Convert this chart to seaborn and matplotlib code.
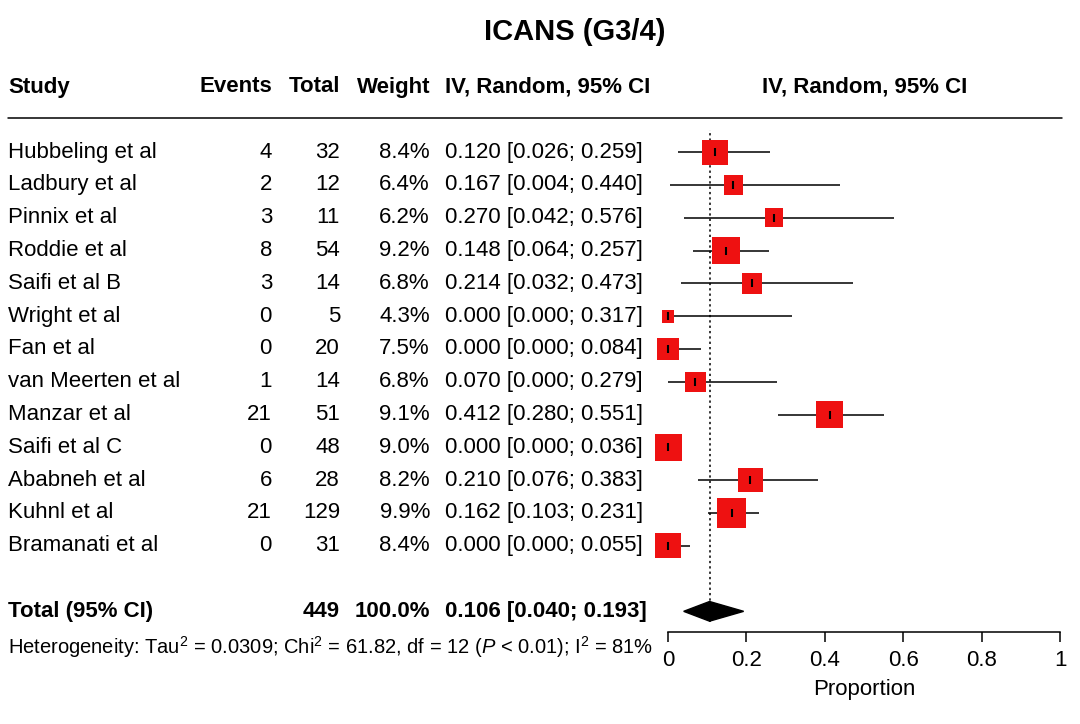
import matplotlib
matplotlib.use("Agg")
import matplotlib.pyplot as plt
import matplotlib.transforms as mtransforms
from matplotlib.patches import Polygon
import seaborn as sns
import pandas as pd

studies = ["Hubbeling et al", "Ladbury et al", "Pinnix et al", "Roddie et al", "Saifi et al B",
           "Wright et al", "Fan et al", "van Meerten et al", "Manzar et al", "Saifi et al C",
           "Ababneh et al", "Kuhnl et al", "Bramanati et al"]
events = [4, 2, 3, 8, 3, 0, 0, 1, 21, 0, 6, 21, 0]
totals = [32, 12, 11, 54, 14, 5, 20, 14, 51, 48, 28, 129, 31]
weights = [8.4, 6.4, 6.2, 9.2, 6.8, 4.3, 7.5, 6.8, 9.1, 9.0, 8.2, 9.9, 8.4]
est = [0.120, 0.167, 0.270, 0.148, 0.214, 0.000, 0.000, 0.070, 0.412, 0.000, 0.210, 0.162, 0.000]
lo = [0.026, 0.004, 0.042, 0.064, 0.032, 0.000, 0.000, 0.000, 0.280, 0.000, 0.076, 0.103, 0.000]
hi = [0.259, 0.440, 0.576, 0.257, 0.473, 0.317, 0.084, 0.279, 0.551, 0.036, 0.383, 0.231, 0.055]
pooled = (0.106, 0.040, 0.193)
total_n = 449

sns.set_style("white")
plt.rcParams['font.family'] = ['Liberation Sans', 'DejaVu Sans']
plt.rcParams['mathtext.fontset'] = 'custom'
plt.rcParams['mathtext.rm'] = 'Liberation Sans'
plt.rcParams['mathtext.it'] = 'Liberation Sans:italic'
plt.rcParams['text.color'] = 'black'
plt.rcParams['xtick.color'] = 'black'
plt.rcParams['axes.labelcolor'] = 'black'
plt.rcParams['axes.edgecolor'] = 'black'

W, H = 1080, 724
fig = plt.figure(figsize=(10.8, 7.24), dpi=100)
def fx(px): return px / W
ax = fig.add_axes([fx(668), 1 - 632 / H, fx(1060) - fx(668), (632 - 120) / H])
rows = list(range(len(studies)))
total_row = 14.0
ax.set_ylim(14.63, -0.98)
ax.set_xlim(0, 1)

df = pd.DataFrame({"row": rows, "est": est, "w": weights})
df["size"] = (df["w"] * 3.0 * 0.72) ** 2
ax.hlines(rows, lo, hi, color="black", lw=1.1, zorder=2)
sns.scatterplot(data=df, x="est", y="row", s=df["size"], marker="s", color="#ee1111",
                edgecolor="none", ax=ax, zorder=3, legend=False, clip_on=False)
ax.scatter(est, rows, marker="|", color="black", s=40, zorder=4, clip_on=False)
p, pl, ph = pooled
ax.add_patch(Polygon([(pl, total_row), (p, total_row - 0.3), (ph, total_row), (p, total_row + 0.3)],
                     closed=True, color="black", clip_on=False))
ax.axvline(p, ymin=0.02, ymax=0.98, color="black", ls=(0, (1.5, 2)), lw=1.1, zorder=1)

for s in ["top", "right", "left"]:
    ax.spines[s].set_visible(False)
ax.spines["bottom"].set_linewidth(1.1)
ax.set_xticks([0, 0.2, 0.4, 0.6, 0.8, 1.0])
ax.set_xticklabels(["0", "0.2", "0.4", "0.6", "0.8", "1"], fontsize=16)
ax.tick_params(axis="x", direction="out", length=7, width=1.1, bottom=True, pad=6)
ax.set_yticks([])
ax.set_xlabel("Proportion", fontsize=16, labelpad=6)
ax.set_ylabel("")

tr = mtransforms.blended_transform_factory(fig.transFigure, ax.transData)
fs = 16
for i in rows:
    ax.text(fx(8), i, studies[i], transform=tr, ha="left", va="center", fontsize=fs, clip_on=False)
    ax.text(fx(272), i, str(events[i]), transform=tr, ha="right", va="center", fontsize=fs)
    ax.text(fx(340), i, str(totals[i]), transform=tr, ha="right", va="center", fontsize=fs)
    ax.text(fx(430), i, f"{weights[i]:.1f}%", transform=tr, ha="right", va="center", fontsize=fs)
    ax.text(fx(445), i, f"{est[i]:.3f} [{lo[i]:.3f}; {hi[i]:.3f}]", transform=tr,
            ha="left", va="center", fontsize=fs)
ax.text(fx(8), total_row, "Total (95% CI)", transform=tr, ha="left", va="center", fontsize=fs, weight="bold")
ax.text(fx(340), total_row, str(total_n), transform=tr, ha="right", va="center", fontsize=fs, weight="bold")
ax.text(fx(430), total_row, "100.0%", transform=tr, ha="right", va="center", fontsize=fs, weight="bold")
ax.text(fx(445), total_row, f"{p:.3f} [{pl:.3f}; {ph:.3f}]", transform=tr, ha="left", va="center",
        fontsize=fs, weight="bold")

def fy(py): return 1 - py / H
fig.text(fx(575), fy(32), "ICANS (G3/4)", ha="center", va="center", fontsize=21, weight="bold")
hy = fy(87)
fig.text(fx(8), hy, "Study", ha="left", va="center", fontsize=fs, weight="bold")
fig.text(fx(272), hy, "Events", ha="right", va="center", fontsize=fs, weight="bold")
fig.text(fx(340), hy, "Total", ha="right", va="center", fontsize=fs, weight="bold")
fig.text(fx(430), hy, "Weight", ha="right", va="center", fontsize=fs, weight="bold")
fig.text(fx(445), hy, "IV, Random, 95% CI", ha="left", va="center", fontsize=fs, weight="bold")
fig.text(fx(865), hy, "IV, Random, 95% CI", ha="center", va="center", fontsize=fs, weight="bold")
fig.add_artist(plt.Line2D([fx(8), fx(1062)], [fy(118), fy(118)], color="black", lw=1.1))
fig.text(fx(8), fy(647), "Heterogeneity: Tau$^2$ = 0.0309; Chi$^2$ = 61.82, df = 12 ($P$ < 0.01); I$^2$ = 81%",
         ha="left", va="center", fontsize=14.5)

fig.savefig("out.png", dpi=100)
